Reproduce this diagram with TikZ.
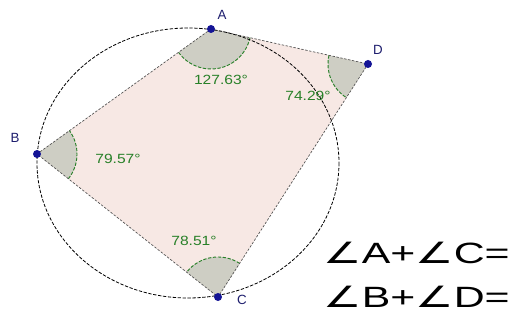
\documentclass[tikz,border=0pt]{standalone}
\usepackage{fontspec}
\setmainfont{Liberation Sans}
\newfontfamily\symfont{DejaVu Sans}
\usepackage{graphicx}
\definecolor{ggblue}{RGB}{20,20,150}
\definecolor{gglabel}{RGB}{30,30,110}
\definecolor{gggreen}{RGB}{40,128,40}
\definecolor{ggpink}{RGB}{247,232,228}
\definecolor{gggray}{RGB}{206,206,196}
\definecolor{ggedge}{RGB}{80,80,80}
\usetikzlibrary{angles}

\begin{document}
\begin{tikzpicture}[x=0.75pt, y=-0.75pt,
  circline/.style={draw=black, line width=0.6pt, dash pattern=on 2.5pt off 1.2pt},
  quadedge/.style={draw=ggedge, line width=0.5pt, dash pattern=on 1.8pt off 1.2pt},
  sector/.style={fill=gggray, draw=gggreen, line width=0.7pt,
    dash pattern=on 2.5pt off 1.2pt, angle radius=30pt},
  ptdot/.style={fill=ggblue},
  vlabel/.style={text=gglabel, font=\fontsize{10}{11}\selectfont, inner sep=0pt},
  anglab/.style={text=gggreen, font=\fontsize{10}{12}\selectfont, inner sep=0pt, xscale=1.17},
  bigtext/.style={text=black, font=\fontsize{22}{26}\selectfont, inner sep=0pt, anchor=west, xscale=1.46}]

\useasboundingbox (0,0) rectangle (517,320);
\fill[white] (0,0) rectangle (517,320);

% vertices
\coordinate (O) at (188,163);
\coordinate (A) at (211,29);
\coordinate (B) at (37,154);
\coordinate (C) at (218,297);
\coordinate (D) at (368,64);

% quadrilateral and angles
\fill[ggpink] (A) -- (B) -- (C) -- (D) -- cycle;
\pic[sector] {angle = B--A--D};
\pic[sector] {angle = A--D--C};
\pic[sector] {angle = D--C--B};
\pic[sector] {angle = C--B--A};

% circle
\draw[circline] (O) ellipse [x radius=151, y radius=135];

\draw[quadedge] (A) -- (B) -- (C) -- (D) -- cycle;

\foreach \p in {A,B,C,D}
  \fill[ptdot] (\p) circle [radius=3pt];

% labels
\node[vlabel] (la) at (222,15) {A};
\node[vlabel] (lb) at (15,138) {B};
\node[vlabel] (lc) at (242,300) {C};
\node[vlabel] (ld) at (378,50) {D};

\node[anglab] (aa) at (221,80) {127.63°};
\node[anglab] (ab) at (118,159) {79.57°};
\node[anglab] (ac) at (194,241) {78.51°};
\node[anglab] (ad) at (308,96) {74.29°};

\node[bigtext] (sum1) at (323,253) {{\symfont ∠}A+{\symfont ∠}C=};
\node[bigtext] (sum2) at (323,297) {{\symfont ∠}B+{\symfont ∠}D=};

\end{tikzpicture}
\end{document}
